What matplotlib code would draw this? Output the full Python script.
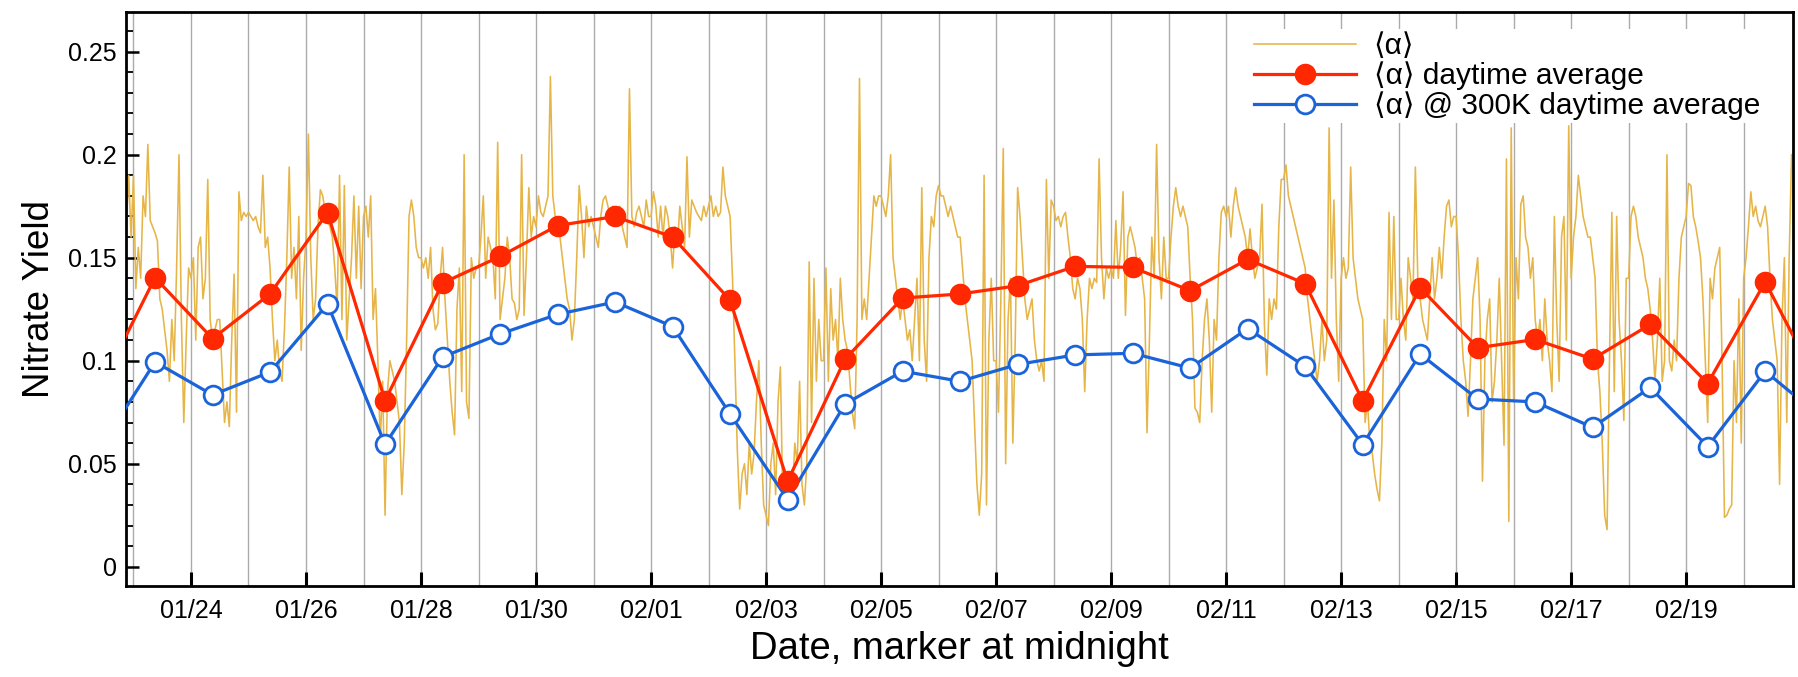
import numpy as np
import matplotlib
matplotlib.use("Agg")
import matplotlib.pyplot as plt
import matplotlib.dates as mdates
from matplotlib.ticker import FixedLocator, MultipleLocator
from datetime import datetime, timedelta

plt.rcParams['font.family'] = ['Liberation Sans', 'DejaVu Sans']

YEAR = 2015

# Hourly nitrate yield <alpha>; first list starts 01/22 21:00, the rest start at midnight
alpha_0122 = [0.165, 0.19, 0.16]
alpha_0123 = [0.19, 0.135, 0.155, 0.14, 0.18, 0.17, 0.205, 0.168, 0.165, 0.162, 0.158, 0.13, 0.125, 0.115, 0.105, 0.09, 0.12, 0.1, 0.145, 0.2, 0.12, 0.07, 0.11, 0.145]
alpha_0124 = [0.14, 0.15, 0.11, 0.155, 0.16, 0.13, 0.14, 0.188, 0.12, 0.11, 0.115, 0.12, 0.12, 0.095, 0.07, 0.08, 0.068, 0.11, 0.142, 0.075, 0.182, 0.168, 0.172, 0.17]
alpha_0125 = [0.172, 0.17, 0.168, 0.17, 0.165, 0.162, 0.19, 0.155, 0.16, 0.145, 0.12, 0.1, 0.11, 0.095, 0.09, 0.115, 0.15, 0.194, 0.14, 0.155, 0.13, 0.17, 0.105, 0.14]
alpha_0126 = [0.16, 0.21, 0.15, 0.12, 0.13, 0.165, 0.183, 0.18, 0.172, 0.168, 0.165, 0.16, 0.145, 0.125, 0.19, 0.12, 0.185, 0.11, 0.13, 0.15, 0.18, 0.14, 0.175, 0.135]
alpha_0127 = [0.17, 0.175, 0.16, 0.18, 0.12, 0.135, 0.1, 0.06, 0.09, 0.025, 0.085, 0.1, 0.095, 0.09, 0.08, 0.07, 0.035, 0.06, 0.11, 0.17, 0.178, 0.17, 0.155, 0.15]
alpha_0128 = [0.15, 0.145, 0.15, 0.14, 0.155, 0.125, 0.115, 0.118, 0.14, 0.155, 0.13, 0.11, 0.09, 0.075, 0.064, 0.125, 0.145, 0.085, 0.2, 0.08, 0.072, 0.15, 0.14, 0.145]
alpha_0129 = [0.145, 0.16, 0.18, 0.14, 0.16, 0.155, 0.15, 0.13, 0.206, 0.12, 0.13, 0.14, 0.16, 0.15, 0.13, 0.128, 0.12, 0.125, 0.2, 0.122, 0.15, 0.184, 0.16, 0.17]
alpha_0130 = [0.165, 0.18, 0.172, 0.17, 0.175, 0.18, 0.238, 0.18, 0.17, 0.165, 0.16, 0.15, 0.14, 0.13, 0.125, 0.11, 0.12, 0.15, 0.185, 0.17, 0.15, 0.175, 0.165, 0.17]
alpha_0131 = [0.165, 0.16, 0.155, 0.17, 0.178, 0.18, 0.175, 0.17, 0.175, 0.17, 0.168, 0.175, 0.165, 0.16, 0.155, 0.232, 0.17, 0.165, 0.172, 0.175, 0.17, 0.165, 0.178, 0.17]
alpha_0201 = [0.17, 0.182, 0.175, 0.16, 0.175, 0.16, 0.175, 0.17, 0.16, 0.145, 0.165, 0.155, 0.175, 0.165, 0.155, 0.199, 0.16, 0.178, 0.175, 0.172, 0.17, 0.168, 0.175, 0.17]
alpha_0202 = [0.175, 0.18, 0.17, 0.175, 0.17, 0.172, 0.194, 0.18, 0.175, 0.17, 0.14, 0.1, 0.057, 0.028, 0.045, 0.05, 0.035, 0.06, 0.045, 0.055, 0.08, 0.1, 0.06, 0.03]
alpha_0203 = [0.025, 0.02, 0.05, 0.06, 0.035, 0.08, 0.097, 0.03, 0.04, 0.035, 0.03, 0.035, 0.06, 0.05, 0.09, 0.04, 0.03, 0.05, 0.148, 0.07, 0.14, 0.09, 0.12, 0.1]
alpha_0204 = [0.1, 0.145, 0.09, 0.135, 0.11, 0.12, 0.1, 0.14, 0.12, 0.11, 0.105, 0.09, 0.075, 0.067, 0.12, 0.237, 0.12, 0.13, 0.12, 0.14, 0.16, 0.18, 0.175, 0.18]
alpha_0205 = [0.18, 0.175, 0.17, 0.18, 0.2, 0.15, 0.14, 0.13, 0.12, 0.13, 0.12, 0.11, 0.115, 0.1, 0.12, 0.14, 0.1, 0.184, 0.11, 0.09, 0.15, 0.17, 0.165, 0.18]
alpha_0206 = [0.185, 0.18, 0.18, 0.175, 0.17, 0.175, 0.17, 0.165, 0.16, 0.16, 0.145, 0.13, 0.12, 0.11, 0.1, 0.07, 0.04, 0.025, 0.045, 0.19, 0.03, 0.11, 0.14, 0.1]
alpha_0207 = [0.1, 0.075, 0.13, 0.203, 0.05, 0.12, 0.14, 0.06, 0.11, 0.184, 0.17, 0.15, 0.13, 0.12, 0.125, 0.13, 0.11, 0.1, 0.095, 0.1, 0.09, 0.188, 0.14, 0.178]
alpha_0208 = [0.175, 0.168, 0.17, 0.165, 0.17, 0.172, 0.16, 0.15, 0.135, 0.13, 0.14, 0.135, 0.12, 0.085, 0.12, 0.14, 0.135, 0.14, 0.138, 0.198, 0.15, 0.13, 0.145, 0.14]
alpha_0209 = [0.145, 0.14, 0.168, 0.14, 0.155, 0.182, 0.122, 0.16, 0.165, 0.16, 0.155, 0.145, 0.15, 0.14, 0.13, 0.065, 0.11, 0.16, 0.14, 0.205, 0.15, 0.13, 0.16, 0.14]
alpha_0210 = [0.14, 0.16, 0.175, 0.184, 0.175, 0.17, 0.175, 0.17, 0.165, 0.14, 0.12, 0.077, 0.075, 0.07, 0.1, 0.12, 0.13, 0.11, 0.075, 0.12, 0.11, 0.15, 0.172, 0.175]
alpha_0211 = [0.17, 0.175, 0.16, 0.175, 0.184, 0.175, 0.17, 0.165, 0.16, 0.15, 0.164, 0.15, 0.14, 0.145, 0.15, 0.176, 0.117, 0.093, 0.13, 0.12, 0.13, 0.125, 0.165, 0.188]
alpha_0212 = [0.188, 0.195, 0.18, 0.175, 0.17, 0.165, 0.16, 0.155, 0.15, 0.145, 0.13, 0.12, 0.11, 0.1, 0.09, 0.1, 0.12, 0.1, 0.11, 0.213, 0.14, 0.178, 0.12, 0.09]
alpha_0213 = [0.14, 0.15, 0.14, 0.145, 0.194, 0.15, 0.14, 0.13, 0.125, 0.12, 0.07, 0.08, 0.06, 0.055, 0.045, 0.0375, 0.032, 0.06, 0.12, 0.1, 0.172, 0.12, 0.17, 0.12]
alpha_0214 = [0.12, 0.14, 0.12, 0.11, 0.15, 0.14, 0.13, 0.194, 0.14, 0.13, 0.12, 0.115, 0.11, 0.13, 0.15, 0.13, 0.14, 0.155, 0.14, 0.16, 0.175, 0.178, 0.165, 0.17]
alpha_0215 = [0.17, 0.15, 0.12, 0.1, 0.09, 0.073, 0.1, 0.13, 0.14, 0.15, 0.12, 0.0415, 0.1, 0.12, 0.13, 0.08, 0.09, 0.11, 0.14, 0.1, 0.059, 0.198, 0.022, 0.213]
alpha_0216 = [0.08, 0.15, 0.13, 0.176, 0.18, 0.16, 0.155, 0.14, 0.15, 0.12, 0.11, 0.12, 0.1, 0.13, 0.11, 0.1, 0.085, 0.17, 0.12, 0.09, 0.16, 0.17, 0.11, 0.214]
alpha_0217 = [0.14, 0.16, 0.17, 0.19, 0.18, 0.17, 0.165, 0.16, 0.16, 0.15, 0.14, 0.1, 0.085, 0.06, 0.025, 0.018, 0.1, 0.172, 0.085, 0.17, 0.12, 0.1, 0.071, 0.14]
alpha_0218 = [0.14, 0.17, 0.175, 0.17, 0.16, 0.155, 0.15, 0.14, 0.135, 0.125, 0.11, 0.09, 0.11, 0.14, 0.09, 0.1, 0.2, 0.1, 0.095, 0.11, 0.1, 0.14, 0.16, 0.165]
alpha_0219 = [0.17, 0.186, 0.185, 0.17, 0.165, 0.158, 0.15, 0.13, 0.1, 0.07, 0.14, 0.13, 0.145, 0.15, 0.155, 0.1, 0.024, 0.025, 0.028, 0.03, 0.1, 0.07, 0.13, 0.06]
alpha_0220 = [0.14, 0.15, 0.165, 0.182, 0.17, 0.175, 0.168, 0.165, 0.17, 0.175, 0.165, 0.14, 0.12, 0.11, 0.1, 0.04, 0.12, 0.15, 0.07, 0.15, 0.2]

alpha_days = [alpha_0123, alpha_0124, alpha_0125, alpha_0126, alpha_0127, alpha_0128,
              alpha_0129, alpha_0130, alpha_0131, alpha_0201, alpha_0202, alpha_0203,
              alpha_0204, alpha_0205, alpha_0206, alpha_0207, alpha_0208, alpha_0209,
              alpha_0210, alpha_0211, alpha_0212, alpha_0213, alpha_0214, alpha_0215,
              alpha_0216, alpha_0217, alpha_0218, alpha_0219, alpha_0220]

# Daytime averages, one per day from 01/22 to 02/21 (plotted at 09:00)
avg_dates = ["01/22", "01/23", "01/24", "01/25", "01/26", "01/27", "01/28", "01/29",
             "01/30", "01/31", "02/01", "02/02", "02/03", "02/04", "02/05", "02/06",
             "02/07", "02/08", "02/09", "02/10", "02/11", "02/12", "02/13", "02/14",
             "02/15", "02/16", "02/17", "02/18", "02/19", "02/20", "02/21"]
alpha_day_avg = [0.0844, 0.1403, 0.1107, 0.1324, 0.1719, 0.0806, 0.1377, 0.1506,
                 0.1656, 0.1700, 0.1600, 0.1294, 0.0415, 0.1008, 0.1304, 0.1324,
                 0.1364, 0.1458, 0.1453, 0.1340, 0.1492, 0.1374, 0.0806, 0.1354,
                 0.1063, 0.1103, 0.1008, 0.1176, 0.0889, 0.1383, 0.0843]
alpha300_day_avg = [0.0556, 0.0994, 0.0834, 0.0945, 0.1275, 0.0594, 0.1018, 0.1130,
                    0.1225, 0.1285, 0.1166, 0.0741, 0.0326, 0.0790, 0.0949, 0.0900,
                    0.0982, 0.1028, 0.1036, 0.0964, 0.1156, 0.0972, 0.0593, 0.1032,
                    0.0814, 0.0800, 0.0676, 0.0870, 0.0583, 0.0949, 0.0718]

tick_labels = ["01/24", "01/26", "01/28", "01/30", "02/01", "02/03", "02/05",
               "02/07", "02/09", "02/11", "02/13", "02/15", "02/17", "02/19"]
ytick_values = [0, 0.05, 0.1, 0.15, 0.2, 0.25]
ytick_labels = ["0", "0.05", "0.1", "0.15", "0.2", "0.25"]


def md(s, hour=0.0):
    m, d = (int(p) for p in s.split("/"))
    return mdates.date2num(datetime(YEAR, m, d) + timedelta(hours=hour))


# hourly time stamps for the <alpha> series
first_day = md("01/23")
t_alpha = [md("01/22", 21 + h) for h in range(len(alpha_0122))]
v_alpha = list(alpha_0122)
for k, vals in enumerate(alpha_days):
    t_alpha += [first_day + k + h / 24.0 for h in range(len(vals))]
    v_alpha += vals

t_avg = [md(s, 9) for s in avg_dates]

YELLOW = "#E6B548"
RED = "#FF2800"
BLUE = "#1A63D8"

fig = plt.figure(figsize=(17.99, 6.77), dpi=100)
ax = fig.add_axes([0.0702, 0.134, 0.9262, 0.849])

ax.plot(t_alpha, v_alpha, color=YELLOW, lw=1.15, zorder=2, label="⟨α⟩")
ax.plot(t_avg, alpha_day_avg, color=RED, lw=2.3, marker="o", ms=14.5,
        mfc=RED, mec=RED, zorder=4, label="⟨α⟩ daytime average")
ax.plot(t_avg, alpha300_day_avg, color=BLUE, lw=2.3, marker="o", ms=13.5,
        mfc="white", mec=BLUE, mew=2.0, zorder=3, label="⟨α⟩ @ 300K daytime average")

ax.set_xlim(md("01/23", -3.0), md("02/20", 20.4))
ax.set_ylim(-0.0095, 0.2695)

# x axis: labelled ticks every other day, a grid line at every midnight
ax.xaxis.set_major_locator(FixedLocator([md(s) for s in tick_labels]))
ax.set_xticklabels(tick_labels)
ax.xaxis.set_minor_locator(mdates.DayLocator())
ax.grid(axis="x", which="both", color="#ABABAB", lw=1.0, zorder=0)
ax.set_axisbelow(True)
ax.tick_params(axis="x", which="major", direction="in", length=10, width=2.2,
               labelsize=18, pad=9)
ax.tick_params(axis="x", which="minor", length=0)

ax.set_yticks(ytick_values)
ax.set_yticklabels(ytick_labels)
ax.yaxis.set_minor_locator(MultipleLocator(0.01))
ax.tick_params(axis="y", which="major", direction="in", length=9.5, width=1.8,
               labelsize=18, pad=7)
ax.tick_params(axis="y", which="minor", direction="in", length=5, width=1.3)

for sp in ax.spines.values():
    sp.set_linewidth(2.0)

ax.set_xlabel("Date, marker at midnight", fontsize=27.5, labelpad=6)
ax.set_ylabel("Nitrate Yield", fontsize=26.5, labelpad=8)

leg = ax.legend(loc="upper left", bbox_to_anchor=(0.6873, 0.979),
                bbox_transform=fig.transFigure, fontsize=21.5, handlelength=3.4,
                handletextpad=0.6, labelspacing=0.04, borderpad=0.1,
                frameon=True, fancybox=False)
leg.get_frame().set_facecolor("white")
leg.get_frame().set_edgecolor("none")
leg.get_frame().set_alpha(1.0)

fig.savefig("out.png", dpi=100)
